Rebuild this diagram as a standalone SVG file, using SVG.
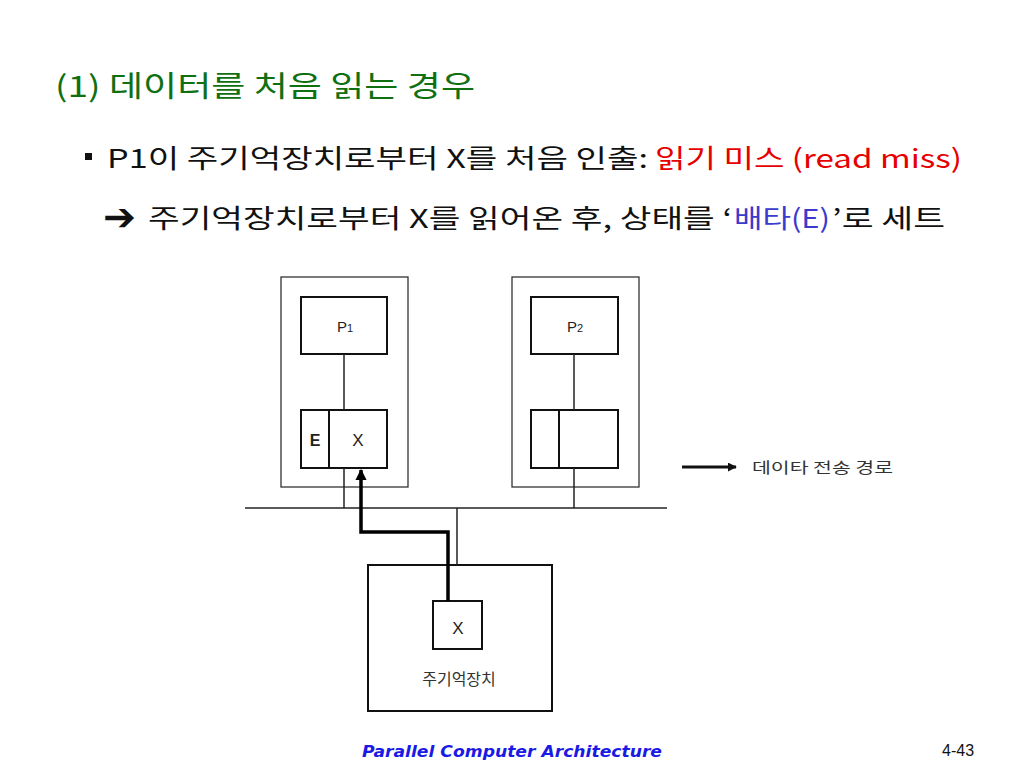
<svg xmlns="http://www.w3.org/2000/svg" width="1024" height="768" viewBox="0 0 1024 768">
<style>
.box{fill:#fff;stroke:#111;stroke-width:2}
.thin{fill:none;stroke:#333;stroke-width:1.3}
.ln{fill:none;stroke:#222;stroke-width:1.5}
.kr{font-family:"Noto Sans CJK KR","Liberation Sans",sans-serif}
.lbl{font-family:"Liberation Sans","Noto Sans CJK KR",sans-serif;fill:#222}
</style>
<defs>
<marker id="ah" viewBox="0 0 10 10" refX="9" refY="5" markerWidth="3.2" markerHeight="3.2" orient="auto" markerUnits="strokeWidth">
<path d="M0,0 L10,5 L0,10 z" fill="#000"/>
</marker>
<marker id="ah2" viewBox="0 0 10 10" refX="9" refY="5" markerWidth="3" markerHeight="3" orient="auto" markerUnits="strokeWidth">
<path d="M0,0 L10,5 L0,10 z" fill="#111"/>
</marker>
</defs>
<rect width="1024" height="768" fill="#fff"/>

<g id="title">
<text class="kr" x="55" y="97" font-size="29" fill="#0f7012" textLength="420" lengthAdjust="spacingAndGlyphs">(1) 데이터를 처음 읽는 경우</text>
</g>
<g id="line2">
<rect x="85" y="153" width="7" height="7" fill="#111"/>
<text class="kr" x="107" y="168" font-size="26" fill="#111" textLength="541" lengthAdjust="spacingAndGlyphs">P1이 주기억장치로부터 X를 처음 인출:</text>
<text class="kr" x="655" y="168" font-size="26" fill="#e60000" textLength="307" lengthAdjust="spacingAndGlyphs">읽기 미스 (read miss)</text>
</g>
<g id="line3">
<text x="103" y="230" font-size="38" fill="#111" font-family="DejaVu Sans,sans-serif" font-weight="bold" textLength="33" lengthAdjust="spacingAndGlyphs">➔</text>
<text class="kr" x="148" y="228" font-size="26" fill="#111" textLength="584" lengthAdjust="spacingAndGlyphs">주기억장치로부터 X를 읽어온 후, 상태를 ‘</text>
<text class="kr" x="734" y="228" font-size="26" fill="#3a3acc" textLength="96" lengthAdjust="spacingAndGlyphs">배타(E)</text>
<text class="kr" x="832" y="228" font-size="26" fill="#111" textLength="113" lengthAdjust="spacingAndGlyphs">’로 세트</text>
</g>

<g id="node1">
<rect class="thin" x="281" y="277" width="127" height="210"/>
<rect class="box" x="301" y="297" width="86" height="57"/>
<text class="lbl" x="345" y="332" font-size="15" text-anchor="middle">P<tspan font-size="11">1</tspan></text>
<rect class="box" x="301" y="410" width="86" height="58"/>
<line class="box" x1="329" y1="410" x2="329" y2="468"/>
<text class="lbl" x="315" y="446" font-size="16" font-weight="bold" text-anchor="middle">E</text>
<text class="lbl" x="358" y="446" font-size="17" text-anchor="middle">X</text>
</g>

<g id="node2">
<rect class="thin" x="512" y="277" width="127" height="210"/>
<rect class="box" x="531" y="297" width="87" height="57"/>
<text class="lbl" x="575" y="332" font-size="15" text-anchor="middle">P<tspan font-size="11">2</tspan></text>
<rect class="box" x="531" y="410" width="87" height="58"/>
<line class="box" x1="559" y1="410" x2="559" y2="468"/>
</g>

<g id="memory">
<rect class="box" x="368" y="565" width="184" height="146"/>
<rect class="box" x="433" y="601" width="49" height="48"/>
<text class="lbl" x="458" y="634" font-size="17" text-anchor="middle">X</text>
<text class="kr" x="459" y="685" font-size="16" fill="#333" text-anchor="middle">주기억장치</text>
</g>

<g id="legend">
<line x1="682" y1="467" x2="736" y2="467" stroke="#111" stroke-width="3" marker-end="url(#ah2)"/>
<text class="kr" x="752" y="473" font-size="15" fill="#333" textLength="141" lengthAdjust="spacingAndGlyphs">데이타 전송 경로</text>
</g>

<g id="connectors">
<line class="ln" x1="245" y1="508" x2="667" y2="508"/>
<line class="ln" x1="344" y1="354" x2="344" y2="410"/>
<line class="ln" x1="574" y1="354" x2="574" y2="410"/>
<line class="ln" x1="344" y1="468" x2="344" y2="508"/>
<line class="ln" x1="574" y1="468" x2="574" y2="508"/>
<line class="ln" x1="457" y1="508" x2="457" y2="565"/>
<polyline points="448,601 448,532 361,532 361,470" fill="none" stroke="#000" stroke-width="3.5" marker-end="url(#ah)"/>
</g>

<g id="footer">
<text x="362" y="757" font-size="16" font-style="italic" font-weight="bold" fill="#1a1ae6" font-family="DejaVu Sans,sans-serif" textLength="300" lengthAdjust="spacingAndGlyphs">Parallel Computer Architecture</text>
<text x="942" y="756" font-size="16" fill="#111" font-family="Liberation Sans,sans-serif">4-43</text>
</g>
</svg>
